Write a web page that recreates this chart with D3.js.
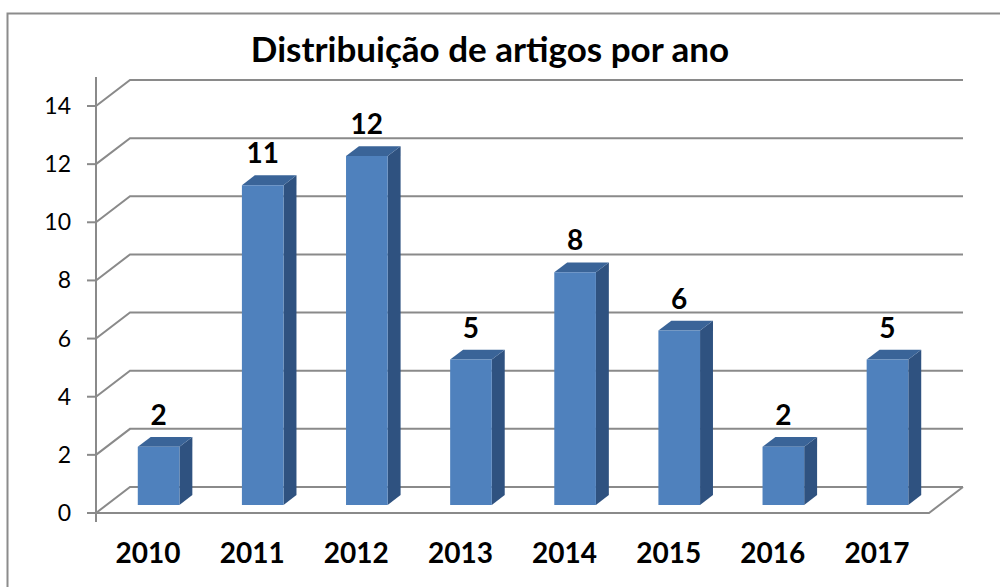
<!DOCTYPE html>
<html>
<head>
<meta charset="utf-8">
<script src="https://cdn.jsdelivr.net/npm/d3@7"></script>
<style>
  html, body { margin: 0; padding: 0; background: #fff; }
  svg { display: block; font-family: Lato, "Open Sans", sans-serif; }
</style>
</head>
<body>
<svg id="chart" width="1000" height="587"></svg>
<script>
const years = ['2010', '2011', '2012', '2013', '2014', '2015', '2016', '2017'];
const counts = [2, 11, 12, 5, 8, 6, 2, 5];
const yTicks = [0, 2, 4, 6, 8, 10, 12, 14];
const title = 'Distribuição de artigos por ano';

const width = 1000;
const height = 587;
// depth offset of the 3D box (back wall vs front plane)
const depth = {dx: 34, dy: -26};
const barDepth = [0.31, 0.69];

const svg = d3.select('#chart');

const x = d3
  .scaleBand()
  .domain(years)
  .range([96, 929])
  .paddingInner(0.6)
  .paddingOuter(0.3);

const y = d3.scaleLinear().domain([0, 14]).range([513, 106]);

// point in the box: px, value, z in [0,1]
const proj = (px, v, z) => [px + z * depth.dx, y(v) + z * depth.dy];

// outer border
svg
  .append('rect')
  .attr('x', 7.5)
  .attr('y', 13.5)
  .attr('width', 1010)
  .attr('height', 600)
  .attr('fill', 'none')
  .attr('stroke', '#8c8c8c')
  .attr('stroke-width', 2);

// title
svg
  .append('text')
  .attr('x', 490)
  .attr('y', 62)
  .attr('text-anchor', 'middle')
  .attr('font-size', 35)
  .attr('font-weight', 'bold')
  .attr('fill', '#000')
  .text(title);

const grid = svg
  .append('g')
  .attr('fill', 'none')
  .attr('stroke', '#8a8a8a')
  .attr('stroke-width', 2);

// back wall gridlines with left wall diagonals
grid
  .selectAll('path.grid')
  .data(yTicks)
  .enter()
  .append('path')
  .attr('class', 'grid')
  .attr('d', v => {
    const a = proj(96, v, 0);
    const b = proj(96, v, 1);
    const c = proj(929, v, 1);
    return `M${a}L${b}L${c}`;
  });

// floor front and right edges
grid
  .append('path')
  .attr('d', () => {
    const a = proj(96, 0, 0);
    const b = proj(929, 0, 0);
    const c = proj(929, 0, 1);
    return `M${a}L${b}L${c}`;
  });

// y axis line and ticks
grid.append('line').attr('x1', 96).attr('x2', 96).attr('y1', 77).attr('y2', 522);
grid
  .selectAll('line.tick')
  .data(yTicks)
  .enter()
  .append('line')
  .attr('class', 'tick')
  .attr('x1', 87)
  .attr('x2', 96)
  .attr('y1', d => y(d))
  .attr('y2', d => y(d));

svg
  .append('g')
  .attr('font-size', 23)
  .attr('text-anchor', 'end')
  .selectAll('text')
  .data(yTicks)
  .enter()
  .append('text')
  .attr('x', 71)
  .attr('y', d => y(d) + 8)
  .text(d => d);

// bars
const data = years.map((yr, i) => ({year: yr, value: counts[i]}));
const [z0, z1] = barDepth;

const bars = svg
  .append('g')
  .selectAll('g')
  .data(data)
  .enter()
  .append('g');

bars
  .append('path')
  .attr('fill', '#2f5280')
  .attr('d', d => {
    const xr = x(d.year) + x.bandwidth();
    return `M${proj(xr, 0, z0)}L${proj(xr, 0, z1)}L${proj(xr, d.value, z1)}L${proj(xr, d.value, z0)}Z`;
  });

bars
  .append('path')
  .attr('fill', '#3a6498')
  .attr('d', d => {
    const xl = x(d.year);
    const xr = xl + x.bandwidth();
    return `M${proj(xl, d.value, z0)}L${proj(xr, d.value, z0)}L${proj(xr, d.value, z1)}L${proj(xl, d.value, z1)}Z`;
  });

bars
  .append('path')
  .attr('fill', '#4f81bd')
  .attr('d', d => {
    const xl = x(d.year);
    const xr = xl + x.bandwidth();
    return `M${proj(xl, 0, z0)}L${proj(xr, 0, z0)}L${proj(xr, d.value, z0)}L${proj(xl, d.value, z0)}Z`;
  });

bars
  .append('text')
  .attr('x', d => proj(x(d.year) + x.bandwidth() / 2, d.value, z0)[0])
  .attr('y', d => proj(0, d.value, z1)[1] - 12)
  .attr('text-anchor', 'middle')
  .attr('font-size', 28)
  .attr('font-weight', 'bold')
  .text(d => d.value);

// category labels
svg
  .append('g')
  .attr('font-size', 28)
  .attr('font-weight', 'bold')
  .attr('text-anchor', 'middle')
  .selectAll('text')
  .data(years)
  .enter()
  .append('text')
  .attr('x', d => x(d) + x.bandwidth() / 2)
  .attr('y', 563)
  .text(d => d);
</script>
</body>
</html>
